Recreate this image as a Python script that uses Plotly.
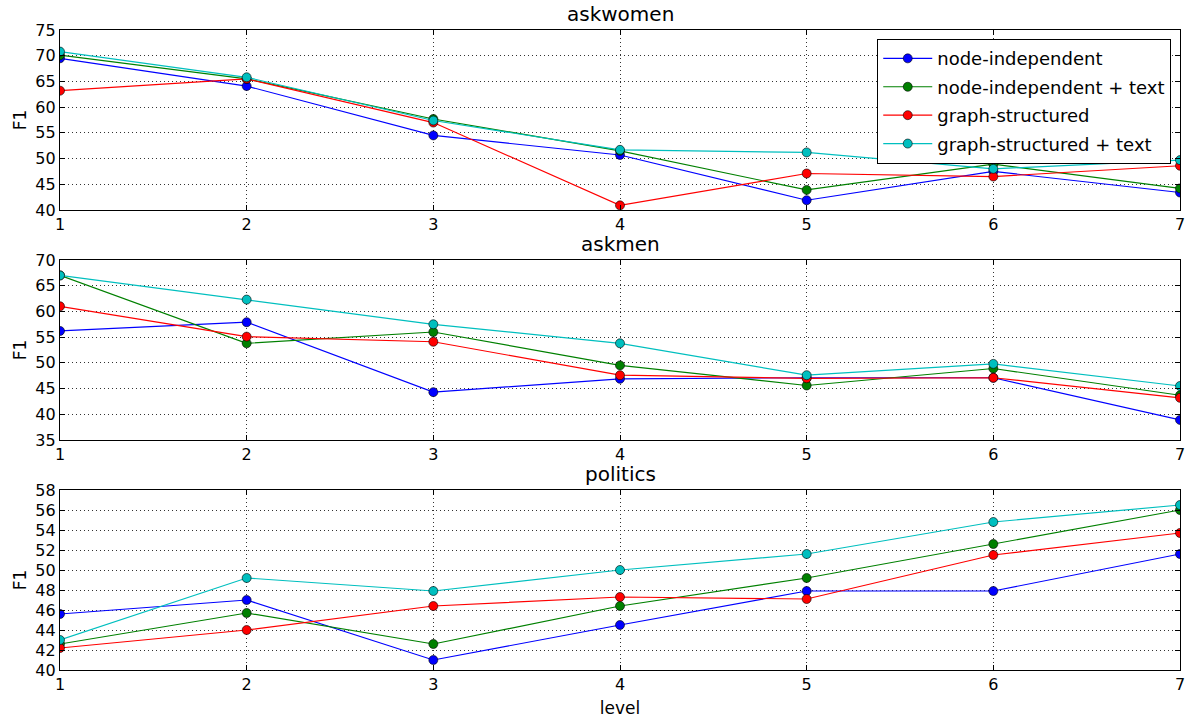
import plotly.graph_objects as go

levels = [1, 2, 3, 4, 5, 6, 7]
series_names = ["node-independent", "node-independent + text", "graph-structured", "graph-structured + text"]
colors = ["#0000ff", "#008000", "#ff0000", "#00bfbf"]

askwomen_node = [69.5, 64.1, 54.5, 50.7, 41.9, 47.5, 43.4]
askwomen_node_text = [70.1, 65.5, 57.7, 51.5, 43.9, 48.9, 44.2]
askwomen_graph = [63.2, 65.5, 57.0, 40.9, 47.1, 46.5, 48.6]
askwomen_graph_text = [70.8, 65.8, 57.4, 51.7, 51.2, 48.0, 49.7]

askmen_node = [56.2, 57.9, 44.3, 46.9, 47.1, 47.1, 38.9]
askmen_node_text = [67.0, 53.8, 56.0, 49.5, 45.6, 48.9, 43.7]
askmen_graph = [61.0, 55.1, 54.1, 47.6, 47.0, 47.1, 43.2]
askmen_graph_text = [67.0, 62.3, 57.5, 53.8, 47.6, 49.8, 45.5]

politics_node = [45.6, 47.0, 41.0, 44.5, 47.9, 47.9, 51.6]
politics_node_text = [42.6, 45.7, 42.6, 46.4, 49.2, 52.6, 56.0]
politics_graph = [42.2, 44.0, 46.4, 47.3, 47.1, 51.5, 53.7]
politics_graph_text = [43.0, 49.2, 47.9, 50.0, 51.6, 54.8, 56.5]

panels = [
    ("askwomen", [askwomen_node, askwomen_node_text, askwomen_graph, askwomen_graph_text], [40, 75], 5),
    ("askmen", [askmen_node, askmen_node_text, askmen_graph, askmen_graph_text], [35, 70], 5),
    ("politics", [politics_node, politics_node_text, politics_graph, politics_graph_text], [40, 58], 2),
]

W, H = 1200, 727
ml, mr, mt, mb = 60, 20, 30, 57
ph = H - mt - mb
# panel pixel extents (top, bottom) measured from top of image
panel_px = [(30, 210), (260, 440), (490, 670)]

fig = go.Figure()
FONT = "DejaVu Sans"

for i, (title, data, yr, dtick) in enumerate(panels):
    xa = "x" if i == 0 else f"x{i+1}"
    ya = "y" if i == 0 else f"y{i+1}"
    for j, vals in enumerate(data):
        fig.add_trace(go.Scatter(
            x=levels, y=vals, mode="lines+markers",
            name=series_names[j], legendgroup=series_names[j], showlegend=(i == 0),
            line=dict(color=colors[j], width=1.2),
            marker=dict(color=colors[j], size=9, line=dict(color="black", width=0.6)),
            xaxis=xa, yaxis=ya,
        ))
    top, bot = panel_px[i]
    d0 = (H - mb - bot) / ph
    d1 = (H - mb - top) / ph
    axcommon = dict(showline=True, linecolor="black", linewidth=1.2, mirror="ticks",
                    ticks="inside", ticklen=5, tickcolor="black",
                    showgrid=True, gridcolor="#333333", griddash="1px,3px", gridwidth=1,
                    zeroline=False, tickfont=dict(family=FONT, size=16, color="black"))
    fig.layout[("xaxis" if i == 0 else f"xaxis{i+1}")] = dict(
        axcommon, domain=[0, 1], range=[1, 7], tickmode="array", tickvals=levels,
        anchor=ya,
        title=dict(text="level", font=dict(family=FONT, size=17, color="black"), standoff=8) if i == 2 else None,
    )
    fig.layout[("yaxis" if i == 0 else f"yaxis{i+1}")] = dict(
        axcommon, domain=[d0, d1], range=yr, dtick=dtick, tick0=0, anchor=xa,
        title=dict(text="F1", font=dict(family=FONT, size=17, color="black"), standoff=4),
    )
    fig.add_annotation(text=title, xref="paper", yref="paper", x=0.5, y=d1,
                       yanchor="bottom", yshift=2, showarrow=False,
                       font=dict(family=FONT, size=20, color="black"))

fig.update_layout(
    width=W, height=H,
    margin=dict(l=ml, r=mr, t=mt, b=mb),
    paper_bgcolor="white", plot_bgcolor="white",
    font=dict(family=FONT, size=16, color="black"),
    legend=dict(x=0.992, y=0.986, xanchor="right", yanchor="top",
                bgcolor="white", bordercolor="black", borderwidth=1.2,
                font=dict(family=FONT, size=18, color="black"),
                itemwidth=49, tracegroupgap=2),
)

fig.write_html("out.html")
